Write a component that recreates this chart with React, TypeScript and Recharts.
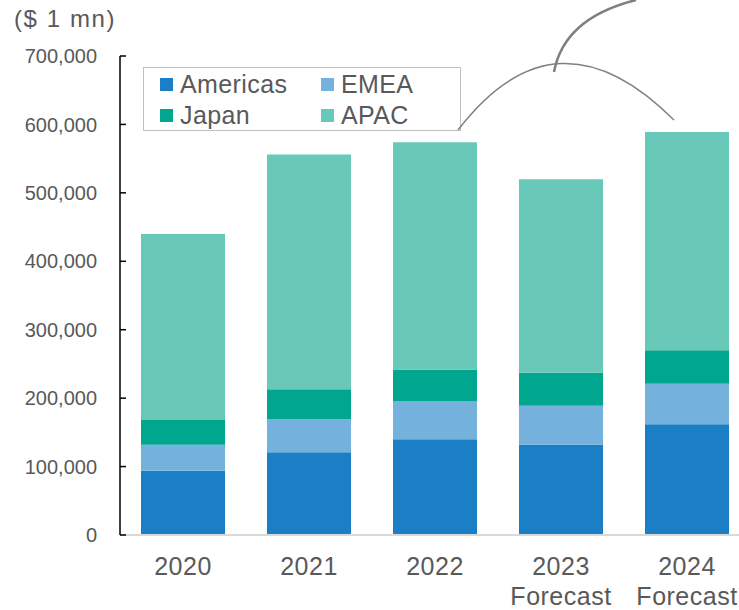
import React from 'react';
import { BarChart, Bar, XAxis, YAxis, Legend } from 'recharts';

// categories and stacked segment values ($ 1 mn)
const years = ['2020', '2021', '2022', '2023\nForecast', '2024\nForecast'];
const americas = [94000, 121000, 140000, 132000, 162000];
const emea = [38000, 48000, 55000, 57000, 59000];
const japan = [36000, 44000, 47000, 48000, 49000];
const apac = [272000, 343000, 332000, 283000, 319000];
const yTicks = [0, 100000, 200000, 300000, 400000, 500000, 600000, 700000];

const seriesNames = ['Americas', 'EMEA', 'Japan', 'APAC'];
const seriesColors = ['#1a7fc4', '#74b1dc', '#00a78e', '#68c9b9'];

const FONT = '"Liberation Sans", Arial, sans-serif';
const TEXT = '#595959';

const data = years.map((y, i) => ({
  year: y,
  Americas: americas[i],
  EMEA: emea[i],
  Japan: japan[i],
  APAC: apac[i],
}));

const fmt = (v: number) => v.toLocaleString('en-US');

function YearTick({ x, y, payload }: any) {
  const lines = String(payload.value).split('\n');
  return (
    <text x={x} y={y + 40} textAnchor="middle" fill={TEXT} fontSize={25} letterSpacing={0.5} fontFamily={FONT}>
      {lines.map((l, i) => (
        <tspan key={i} x={x} dy={i === 0 ? 0 : 30}>{l}</tspan>
      ))}
    </text>
  );
}

function LegendBox({ payload }: any) {
  // keep the legend in series order (row by row)
  const items = [...(payload || [])].sort(
    (a: any, b: any) => seriesNames.indexOf(a.value) - seriesNames.indexOf(b.value)
  );
  return (
    <div
      style={{
        width: 318, height: 64, boxSizing: 'border-box',
        border: '1.5px solid #bfbfbf', background: '#fff',
        display: 'grid', gridTemplateColumns: '161px 140px',
        gridTemplateRows: '31px 31px', paddingLeft: 16, paddingTop: 1,
      }}
    >
      {items.map((it: any) => (
        <div key={it.value} style={{ display: 'flex', alignItems: 'center' }}>
          <span style={{ width: 13, height: 13, background: it.color, display: 'inline-block', marginRight: 7 }} />
          <span style={{ fontFamily: FONT, fontSize: 25, color: TEXT, lineHeight: '31px', letterSpacing: 0.4 }}>{it.value}</span>
        </div>
      ))}
    </div>
  );
}

export default function App() {
  return (
    <div style={{ position: 'absolute', left: 0, top: 0, width: 739, height: 610, overflow: 'hidden', background: '#fff' }}>
      <BarChart
        width={760}
        height={610}
        data={data}
        margin={{ top: 56, right: 10, bottom: 0, left: 0 }}
        barCategoryGap={21}
      >
        <XAxis
          dataKey="year"
          height={75}
          interval={0}
          tickLine={false}
          tickSize={0}
          tickMargin={0}
          axisLine={{ stroke: '#d9d9d9', strokeWidth: 2 }}
          tick={<YearTick />}
        />
        <YAxis
          width={120}
          domain={[0, 700000]}
          ticks={yTicks}
          interval={0}
          tickFormatter={fmt}
          tickSize={-6}
          tickMargin={29}
          axisLine={{ stroke: '#000', strokeWidth: 1.5 }}
          tickLine={{ stroke: '#000', strokeWidth: 1.5 }}
          tick={{ fill: TEXT, fontSize: 20, fontFamily: FONT }}
        />
        <Legend
          layout="vertical"
          align="center"
          verticalAlign="middle"
          content={<LegendBox />}
          wrapperStyle={{ top: 67, left: 143, width: 318, height: 64 }}
        />
        {seriesNames.map((n, i) => (
          <Bar key={n} dataKey={n} stackId="a" fill={seriesColors[i]} isAnimationActive={false} />
        ))}
      </BarChart>
      <svg width={739} height={610} style={{ position: 'absolute', left: 0, top: 0, pointerEvents: 'none' }}>
        <text x={14} y={27} fill={TEXT} fontSize={24} letterSpacing={1.6} fontFamily={FONT}>($ 1 mn)</text>
        {/* callout connector */}
        <path d="M458,130 Q556,2 674,120" fill="none" stroke="#7f7f7f" strokeWidth={1.5} />
        <path d="M554,72 Q564,18 636,0" fill="none" stroke="#7f7f7f" strokeWidth={2.5} />
      </svg>
    </div>
  );
}
